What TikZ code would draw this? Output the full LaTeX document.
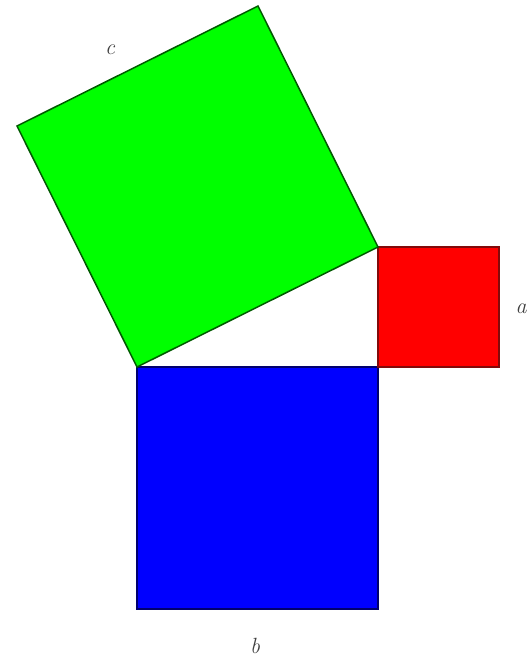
\documentclass[tikz,border=0pt]{standalone}
\begin{document}
\begin{tikzpicture}[x=1pt,y=-1pt,
  sq/.style={line width=1.5pt, line join=miter},
  lbl/.style={text=black!75, font=\fontsize{22}{26}\selectfont\itshape}]
\useasboundingbox (0,0) rectangle (530,659);
\coordinate (A) at (137,367);
\coordinate (C) at (378,367);
\coordinate (B) at (378,247);
% blue square on b
\filldraw[sq, fill={rgb,255:red,0;green,0;blue,255}, draw={rgb,255:red,0;green,0;blue,110}]
  (A) -- (C) -- (378,609) -- (137,609) -- cycle;
% red square on a
\filldraw[sq, fill={rgb,255:red,255;green,0;blue,0}, draw={rgb,255:red,130;green,10;blue,10}]
  (C) -- (B) -- (499,247) -- (499,367) -- cycle;
% green square on c
\filldraw[sq, fill={rgb,255:red,0;green,255;blue,0}, draw={rgb,255:red,0;green,90;blue,0}]
  (A) -- (B) -- (258,6) -- (17,126) -- cycle;
\node[lbl] (lc) at (110,50) {c};
\node[lbl] (la) at (521,309) {a};
\node[lbl] (lb) at (255,646) {b};
\end{tikzpicture}
\end{document}
